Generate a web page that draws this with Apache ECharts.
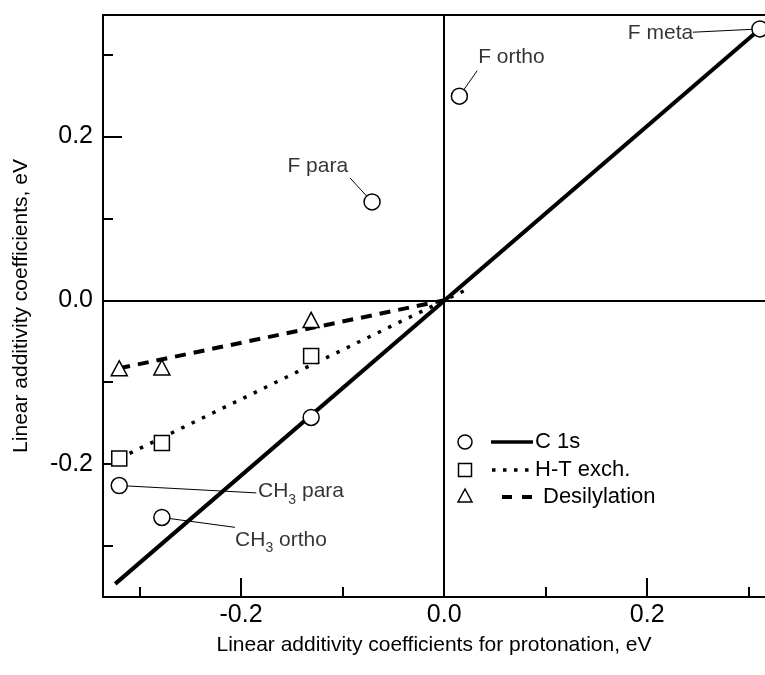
<!DOCTYPE html>
<html>
<head>
<meta charset="utf-8">
<script src="https://cdn.jsdelivr.net/npm/echarts@6/dist/echarts.min.js"></script>
<style>
  html, body { margin: 0; padding: 0; background: #fff; }
  #chart { width: 765px; height: 675px; }
</style>
</head>
<body>
<div id="chart"></div>
<script>
// Linear additivity coefficients (eV): substituent effects vs. protonation
const c1sPoints = [[0.311, 0.331], [0.015, 0.249], [-0.071, 0.120], [-0.131, -0.143], [-0.320, -0.226], [-0.278, -0.265]];
const htPoints = [[-0.320, -0.193], [-0.278, -0.174], [-0.131, -0.068]];
const desPoints = [[-0.320, -0.083], [-0.278, -0.082], [-0.131, -0.024]];

// Least-squares lines through the origin
const c1sFit = [[-0.324, -0.346], [0.311, 0.331]];
const htFit = [[-0.320, -0.193], [0.022, 0.013]];
const desFit = [[-0.320, -0.083], [0.0, 0.0]];

const xMajorTicks = [-0.2, 0.0, 0.2];
const xMinorTicks = [-0.3, -0.1, 0.1, 0.3];
const yMajorTicks = [-0.2, 0.0, 0.2];
const yMinorTicks = [-0.3, -0.1, 0.1, 0.3];

const seriesNames = ['C 1s', 'H-T exch.', 'Desilylation'];
const xTitle = 'Linear additivity coefficients for protonation, eV';
const yTitle = 'Linear additivity coefficients, eV';

// Point labels: index into c1sPoints, leader start, label anchor
const annotations = [
  { text: 'F meta', point: 0, leader: [0.245, 0.327], at: [0.2453, 0.3262], side: 'left' },
  { text: 'F ortho', point: 1, leader: [0.0325, 0.280], at: [0.0335, 0.297], side: 'right' },
  { text: 'F para', point: 2, leader: [-0.0926, 0.149], at: [-0.0946, 0.163], side: 'left' },
  { text: 'CH{s|3} para', point: 4, leader: [-0.185, -0.235], at: [-0.1833, -0.2335], side: 'right' },
  { text: 'CH{s|3} ortho', point: 5, leader: [-0.206, -0.277], at: [-0.2059, -0.2927], side: 'right' }
];

const FONT = '"Liberation Sans", Arial, Helvetica, sans-serif';
const X_MIN = -0.336, X_MAX = 0.316;
const Y_MIN = -0.362, Y_MAX = 0.348;

const chart = echarts.init(document.getElementById('chart'), null, { renderer: 'canvas' });

const fmt = v => (Math.abs(v) < 1e-9 ? 0 : v).toFixed(1);
const tickStyle = { color: '#000', width: 2 };

const markerStyle = { color: '#fff', borderColor: '#000', borderWidth: 1.5, opacity: 1 };

const option = {
  backgroundColor: '#fff',
  animation: false,
  grid: { left: 103, right: 0, top: 15, bottom: 78, containLabel: false },
  xAxis: [
    {
      type: 'value', position: 'bottom', min: X_MIN, max: X_MAX,
      axisLine: { show: true, onZero: false, lineStyle: tickStyle },
      axisTick: { show: true, inside: true, length: 19, customValues: xMajorTicks, lineStyle: tickStyle },
      axisLabel: { show: true, color: '#000', fontFamily: FONT, fontSize: 25, margin: 6, formatter: fmt, customValues: xMajorTicks },
      splitLine: { show: false },
      name: xTitle, nameLocation: 'middle', nameGap: 38,
      nameTextStyle: { color: '#000', fontFamily: FONT, fontSize: 21 }
    },
    {
      type: 'value', position: 'bottom', min: X_MIN, max: X_MAX,
      axisLine: { show: false, onZero: false },
      axisTick: { show: true, inside: true, length: 10, customValues: xMinorTicks, lineStyle: tickStyle },
      axisLabel: { show: false }, splitLine: { show: false }
    },
    {
      type: 'value', position: 'top', min: X_MIN, max: X_MAX,
      axisLine: { show: true, onZero: false, lineStyle: tickStyle },
      axisTick: { show: false }, axisLabel: { show: false }, splitLine: { show: false }
    }
  ],
  yAxis: [
    {
      type: 'value', position: 'left', min: Y_MIN, max: Y_MAX,
      axisLine: { show: true, onZero: false, lineStyle: tickStyle },
      axisTick: { show: true, inside: true, length: 19, customValues: yMajorTicks, lineStyle: tickStyle },
      axisLabel: { show: true, color: '#000', fontFamily: FONT, fontSize: 25, margin: 10, formatter: fmt, customValues: yMajorTicks },
      splitLine: { show: false },
      name: yTitle, nameLocation: 'middle', nameGap: 71, nameRotate: 90,
      nameTextStyle: { color: '#000', fontFamily: FONT, fontSize: 21 }
    },
    {
      type: 'value', position: 'left', min: Y_MIN, max: Y_MAX,
      axisLine: { show: false, onZero: false },
      axisTick: { show: true, inside: true, length: 10, customValues: yMinorTicks, lineStyle: tickStyle },
      axisLabel: { show: false }, splitLine: { show: false }
    }
  ],
  series: [
    // leader lines from labels to their points
    ...annotations.map(a => ({
      type: 'line', z: 1, silent: true, symbol: 'none', animation: false,
      data: [a.leader, c1sPoints[a.point]],
      lineStyle: { color: '#000', width: 1 }
    })),
    {
      name: seriesNames[0] + ' fit', type: 'line', z: 2, symbol: 'none', silent: true,
      data: c1sFit, lineStyle: { color: '#000', width: 4, cap: 'butt' },
      markLine: {
        silent: true, symbol: 'none', animation: false,
        label: { show: false },
        lineStyle: { color: '#000', width: 2, type: 'solid' },
        data: [{ xAxis: 0 }, { yAxis: 0 }]
      }
    },
    {
      name: seriesNames[1] + ' fit', type: 'line', z: 2, symbol: 'none', silent: true,
      data: htFit, lineStyle: { color: '#000', width: 3.5, type: [3.5, 8], cap: 'butt' }
    },
    {
      name: seriesNames[2] + ' fit', type: 'line', z: 2, symbol: 'none', silent: true,
      data: desFit, lineStyle: { color: '#000', width: 4, type: [11, 8], cap: 'butt' }
    },
    {
      name: seriesNames[0], type: 'scatter', z: 3, symbol: 'circle', symbolSize: 16,
      data: c1sPoints, itemStyle: markerStyle
    },
    {
      name: seriesNames[1], type: 'scatter', z: 3, symbol: 'rect', symbolSize: 15,
      data: htPoints, itemStyle: markerStyle
    },
    {
      name: seriesNames[2], type: 'scatter', z: 3, symbol: 'triangle', symbolSize: [16, 15],
      data: desPoints, itemStyle: markerStyle
    },
    {
      // point names
      type: 'scatter', z: 4, silent: true, symbolSize: 0,
      data: annotations.map(a => ({
        value: a.at,
        label: { position: a.side, formatter: a.text }
      })),
      label: {
        show: true, distance: 0, color: '#000', fontFamily: FONT, fontSize: 21, lineHeight: 30,
        rich: { s: { fontFamily: FONT, fontSize: 14, lineHeight: 16, verticalAlign: 'bottom', color: '#000' } }
      }
    }
  ],
  graphic: [
    // key
    { type: 'circle', shape: { cx: 465, cy: 442, r: 7 }, style: { fill: '#fff', stroke: '#000', lineWidth: 1.5 } },
    { type: 'line', shape: { x1: 491, y1: 442, x2: 533, y2: 442 }, style: { stroke: '#000', lineWidth: 3.5 } },
    { type: 'text', x: 535, y: 442, style: { text: seriesNames[0], fill: '#000', font: '22px ' + FONT, verticalAlign: 'middle' } },
    { type: 'rect', shape: { x: 458.5, y: 463.5, width: 13, height: 13 }, style: { fill: '#fff', stroke: '#000', lineWidth: 1.5 } },
    { type: 'line', shape: { x1: 492, y1: 470, x2: 533, y2: 470 }, style: { stroke: '#000', lineWidth: 3.5, lineDash: [3.5, 7.5] } },
    { type: 'text', x: 535, y: 470, style: { text: seriesNames[1], fill: '#000', font: '22px ' + FONT, verticalAlign: 'middle' } },
    { type: 'polygon', shape: { points: [[465, 489], [458, 502], [472, 502]] }, style: { fill: '#fff', stroke: '#000', lineWidth: 1.5 } },
    { type: 'line', shape: { x1: 502, y1: 497, x2: 532, y2: 497 }, style: { stroke: '#000', lineWidth: 4, lineDash: [10, 10] } },
    { type: 'text', x: 543, y: 497, style: { text: seriesNames[2], fill: '#000', font: '22px ' + FONT, verticalAlign: 'middle' } }
  ]
};

chart.setOption(option);
</script>
</body>
</html>
